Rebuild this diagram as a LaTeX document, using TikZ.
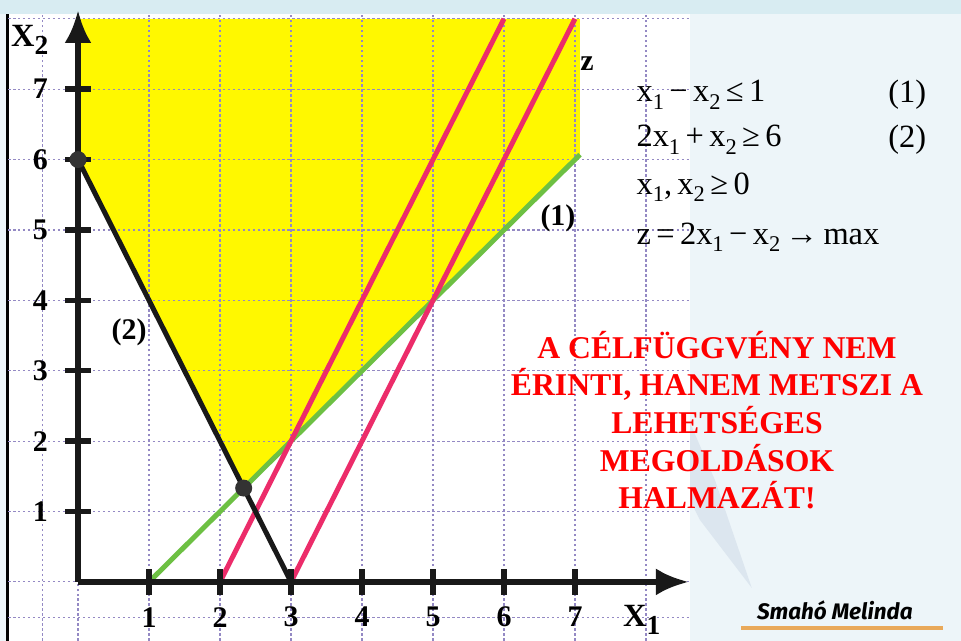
\documentclass[tikz,border=0pt]{standalone}
\usepackage{fontspec}
\setmainfont{Liberation Serif}
\newfontfamily\signfont{Fira Sans}
\usepackage{tikz}
\usetikzlibrary{arrows.meta,positioning}
\definecolor{slideblue}{HTML}{EDF5F9}
\definecolor{stripblue}{HTML}{D8ECF2}
\definecolor{markblue}{HTML}{DCE6EF}
\definecolor{gridviolet}{HTML}{9489C4}
\definecolor{feasyellow}{HTML}{FFF800}
\definecolor{constrgreen}{HTML}{6DC043}
\definecolor{objpink}{HTML}{EC2C6A}
\definecolor{signorange}{HTML}{E9A95A}
\definecolor{dotgray}{HTML}{333333}
\newcommand{\vx}[1]{x\raisebox{-0.5ex}{\fontsize{9}{10}\selectfont #1}}

\begin{document}
\begin{tikzpicture}[x=1cm,y=0.9915cm,
    gridline/.style={gridviolet,line width=0.45pt,dash pattern=on 1pt off 1pt},
    axisline/.style={line width=2.3pt,black!90},
    tickline/.style={line width=2.2pt,black!90},
    plotline/.style={line width=2pt},
    ticklbl/.style={font=\bfseries\fontsize{12}{14}\selectfont},
    eqlbl/.style={anchor=west,inner xsep=0pt,font=\fontsize{13}{15}\selectfont},
    bold lbl/.style={font=\bfseries\fontsize{12}{14}\selectfont}]
    \useasboundingbox (-1.099,-0.838) rectangle (12.437,8.267);
    % Background
    \fill[slideblue] (-1.099,-0.838) rectangle (12.437,8.267);
    \fill[stripblue] (-1.099,8.068) rectangle (12.437,8.267);
    \fill[markblue] (8.62,2.26) -- (8.97,1.45) -- (9.49,-0.085) -- (8.76,0.88) -- (8.62,1.16) -- cycle;
    \fill[white] (-0.986,-0.838) rectangle (8.62,8.068);
    \draw[line width=1.2pt] (-1.0,-0.838) -- (-1.0,8.068);
    % Points
    \coordinate (P6) at (0,6);
    \coordinate (Q) at (7/3,4/3);
    \coordinate (G0) at (1,0);
    \coordinate (G1) at (7.07,6.07);
    \coordinate (B0) at (3,0);
    \coordinate (R0) at (2,0);
    \coordinate (R1) at (6,8);
    \coordinate (S1) at (7,8);
    \coordinate (O) at (0,0);
    \coordinate (xend) at (8.6,0);
    \coordinate (yend) at (0,8.12);
    % Feasible region
    \fill[feasyellow] (0,8) -- (P6) -- (Q) -- (G1) -- (7.07,8) -- cycle;
    % Grid
    \foreach \gx in {-0.5,0,1,...,8}
      \draw[gridline] (\gx,-0.838) -- (\gx,8.068);
    \foreach \gy in {-0.5,0,1,...,8}
      \draw[gridline] (-0.986,\gy) -- (8.62,\gy);
    % Lines
    \draw[plotline,constrgreen] (G0) -- (G1);
    \draw[plotline,objpink] (R0) -- (R1);
    \draw[plotline,objpink] (B0) -- (S1);
    \draw[plotline,black!90] (P6) -- (B0);
    % Axis
    \draw[axisline,-{Latex[length=4.6mm,width=3.8mm]}] (O) -- (xend);
    \draw[axisline,-{Latex[length=4.6mm,width=3.8mm]}] (O) -- (yend);
    \foreach \t in {1,...,7} {
      \draw[tickline] (-0.18,\t) -- (0.18,\t);
      \draw[tickline] (\t,-0.18) -- (\t,0.18);
      \node[ticklbl] (ylbl\t) at (-0.53,\t) {\t};
      \node[ticklbl] (xlbl\t) at (\t,-0.5) {\t};
    }
    \fill[dotgray] (P6) circle (0.12);
    \fill[dotgray] (Q) circle (0.12);
    \node[font=\bfseries\fontsize{13}{15}\selectfont] (xtwo) at (-0.68,7.7)
      {X\raisebox{-0.6ex}{\fontsize{11}{12}\selectfont 2}};
    \node[font=\bfseries\fontsize{13}{15}\selectfont] (xone) at (7.94,-0.54)
      {X\raisebox{-0.5ex}{\fontsize{11}{12}\selectfont 1}};
    % Annotations
    \node[bold lbl] (zlbl) at (7.17,7.36) {z};
    \node[bold lbl] (onelbl) at (6.76,5.17) {(1)};
    \node[bold lbl] (twolbl) at (0.72,3.54) {(2)};
    % Model
    \node[eqlbl] (eqa) at (7.86,6.92) {\vx{1}\,−\,\vx{2}\,≤\,1};
    \node[eqlbl] (eqb) at (7.86,6.28) {2\vx{1}\,+\,\vx{2}\,≥\,6};
    \node[eqlbl] (eqc) at (7.86,5.61) {\vx{1},\,\vx{2}\,≥\,0};
    \node[eqlbl] (eqd) at (7.86,4.90) {z\,=\,2\vx{1}\,−\,\vx{2}\,→\,max};
    \node[font=\fontsize{13}{15}\selectfont] (tagone) at (11.68,6.92) {(1)};
    \node[font=\fontsize{13}{15}\selectfont] (tagtwo) at (11.68,6.28) {(2)};
    \node[align=center,text=red,font=\bfseries\fontsize{12.7}{15.1}\selectfont] (note) at (9.0,2.30)
      {A CÉLFÜGGVÉNY NEM\\ÉRINTI, HANEM METSZI A\\LEHETSÉGES\\MEGOLDÁSOK\\HALMAZÁT!};
    % Signature
    \node[font=\signfont\bfseries\itshape\fontsize{9}{11}\selectfont] (sign) at (10.66,-0.41) {Smahó Melinda};
    \coordinate (ulA) at (9.34,-0.65);
    \coordinate (ulB) at (12.18,-0.65);
    \draw[signorange,line width=1.5pt] (ulA) -- (ulB);
  \end{tikzpicture}
\end{document}
